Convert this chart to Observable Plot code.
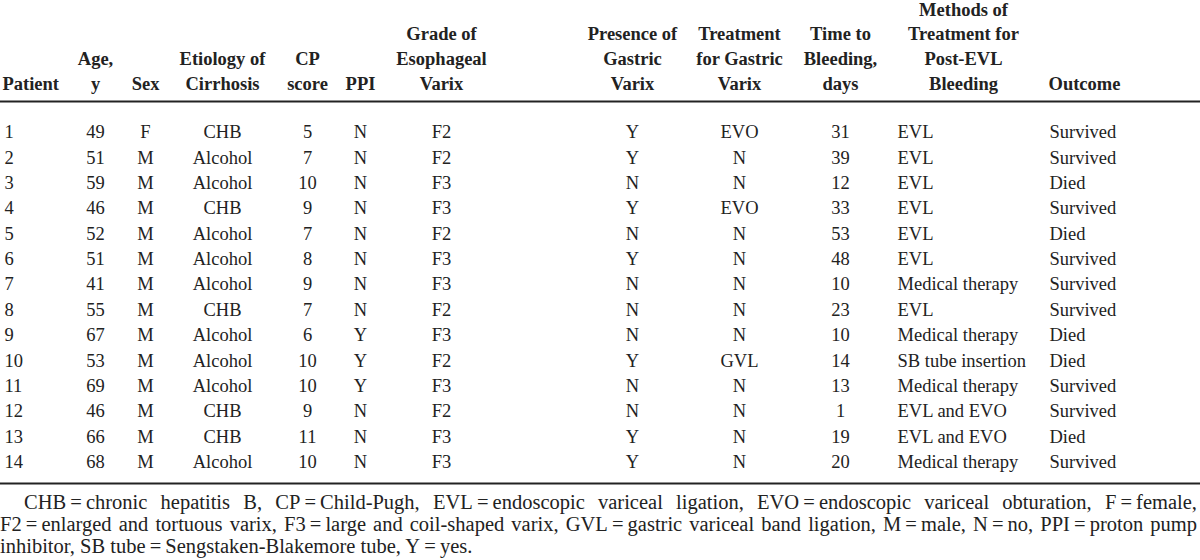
<!DOCTYPE html>
<html>
<head>
<meta charset="utf-8">
<script src="https://cdn.jsdelivr.net/npm/d3@7"></script>
<script src="https://cdn.jsdelivr.net/npm/@observablehq/plot@0.6"></script>
<style>
  html, body { margin: 0; padding: 0; background: #fff; }
  body { width: 1200px; height: 560px; overflow: hidden; font-family: "Liberation Serif", Tinos, "Times New Roman", "DejaVu Serif", serif; color: #222; }
  #chart svg { display: block; }
  #note { width: 1197px; font-size: 20.5px; line-height: 22px; margin-top: 1px; }
  #note .j { text-align: justify; text-align-last: justify; }
  #note .first { text-indent: 24px; }
</style>
</head>
<body>
<div id="chart"></div>
<div id="note"></div>
<script>
// ---- data ----
const patients = [1, 2, 3, 4, 5, 6, 7, 8, 9, 10, 11, 12, 13, 14];
const ages = [49, 51, 59, 46, 52, 51, 41, 55, 67, 53, 69, 46, 66, 68];
const sexes = ["F", "M", "M", "M", "M", "M", "M", "M", "M", "M", "M", "M", "M", "M"];
const etiologies = ["CHB", "Alcohol", "Alcohol", "CHB", "Alcohol", "Alcohol", "Alcohol", "CHB", "Alcohol", "Alcohol", "Alcohol", "CHB", "CHB", "Alcohol"];
const cpScores = [5, 7, 10, 9, 7, 8, 9, 7, 6, 10, 10, 9, 11, 10];
const ppiUse = ["N", "N", "N", "N", "N", "N", "N", "N", "Y", "Y", "Y", "N", "N", "N"];
const esophagealGrades = ["F2", "F2", "F3", "F3", "F2", "F3", "F3", "F2", "F3", "F2", "F3", "F2", "F3", "F3"];
const gastricVarix = ["Y", "Y", "N", "Y", "N", "Y", "N", "N", "N", "Y", "N", "N", "Y", "Y"];
const gastricTreatment = ["EVO", "N", "N", "EVO", "N", "N", "N", "N", "N", "GVL", "N", "N", "N", "N"];
const daysToBleeding = [31, 39, 12, 33, 53, 48, 10, 23, 10, 14, 13, 1, 19, 20];
const postEvlTreatment = ["EVL", "EVL", "EVL", "EVL", "EVL", "EVL", "Medical therapy", "EVL", "Medical therapy", "SB tube insertion", "Medical therapy", "EVL and EVO", "EVL and EVO", "Medical therapy"];
const outcomes = ["Survived", "Survived", "Died", "Survived", "Died", "Survived", "Survived", "Survived", "Died", "Died", "Survived", "Survived", "Died", "Survived"];

const columnKeys = ["patient", "age", "sex", "etiology", "cp", "ppi", "grade", "presence", "gtreat", "days", "method", "outcome"];
const headerLabels = [
  "Patient", "Age,\ny", "Sex", "Etiology of\nCirrhosis", "CP\nscore", "PPI",
  "Grade of\nEsophageal\nVarix", "Presence of\nGastric\nVarix", "Treatment\nfor Gastric\nVarix",
  "Time to\nBleeding,\ndays", "Methods of\nTreatment for\nPost-EVL\nBleeding", "Outcome"
];
const footnoteLines = [
  "CHB\u2009=\u2009chronic hepatitis B, CP\u2009=\u2009Child-Pugh, EVL\u2009=\u2009endoscopic variceal ligation, EVO\u2009=\u2009endoscopic variceal obturation, F\u2009=\u2009female,",
  "F2\u2009=\u2009enlarged and tortuous varix, F3\u2009=\u2009large and coil-shaped varix, GVL\u2009=\u2009gastric variceal band ligation, M\u2009=\u2009male, N\u2009=\u2009no, PPI\u2009=\u2009proton pump",
  "inhibitor, SB tube\u2009=\u2009Sengstaken-Blakemore tube, Y\u2009=\u2009yes."
];

// ---- layout (column anchors on a 0..1200 x scale, rows on a row-index y scale) ----
const colLayout = {
  patient:  {cell: 4,   cellAnchor: "start",  head: 2,   headAnchor: "start"},
  age:      {cell: 95,  cellAnchor: "middle", head: 95,  headAnchor: "middle"},
  sex:      {cell: 145, cellAnchor: "middle", head: 145, headAnchor: "middle"},
  etiology: {cell: 222, cellAnchor: "middle", head: 222, headAnchor: "middle"},
  cp:       {cell: 307, cellAnchor: "middle", head: 307, headAnchor: "middle"},
  ppi:      {cell: 360, cellAnchor: "middle", head: 360, headAnchor: "middle"},
  grade:    {cell: 441, cellAnchor: "middle", head: 441, headAnchor: "middle"},
  presence: {cell: 632, cellAnchor: "middle", head: 632, headAnchor: "middle"},
  gtreat:   {cell: 739, cellAnchor: "middle", head: 739, headAnchor: "middle"},
  days:     {cell: 840, cellAnchor: "middle", head: 840, headAnchor: "middle"},
  method:   {cell: 897, cellAnchor: "start",  head: 963, headAnchor: "middle"},
  outcome:  {cell: 1049, cellAnchor: "start", head: 1048, headAnchor: "start"}
};
const headerRow = -0.66;     // baseline of the last header line, in row units
const headRuleRow = -0.22;
const footRuleRow = 14.85;
const fontSize = 18.5;
const serif = "'Liberation Serif', Tinos, 'Times New Roman', 'DejaVu Serif', serif";

// ---- build table ----
const columnsData = {
  patient: patients, age: ages, sex: sexes, etiology: etiologies, cp: cpScores, ppi: ppiUse,
  grade: esophagealGrades, presence: gastricVarix, gtreat: gastricTreatment, days: daysToBleeding,
  method: postEvlTreatment, outcome: outcomes
};
const cells = patients.flatMap((p, i) => columnKeys.map(k => ({
  row: i + 1, col: k, text: String(columnsData[k][i]),
  x: colLayout[k].cell, anchor: colLayout[k].cellAnchor
})));
const headers = columnKeys.map((k, i) => ({
  col: k, text: headerLabels[i], x: colLayout[k].head, anchor: colLayout[k].headAnchor, row: headerRow
}));

const bodyMark = (anchor) => Plot.text(cells.filter(d => d.anchor === anchor), {
  x: "x", y: "row", text: "text", textAnchor: anchor, fontSize, fontFamily: serif, fill: "#222"
});
const headMark = (anchor) => Plot.text(headers.filter(d => d.anchor === anchor), {
  x: "x", y: "row", text: "text", textAnchor: anchor, lineAnchor: "bottom", lineHeight: 1.35,
  fontSize, fontFamily: serif, fontWeight: "bold", fill: "#222"
});

const chart = Plot.plot({
  width: 1200,
  height: 490,
  margin: 0,
  x: {domain: [0, 1200], range: [0, 1200], axis: null},
  y: {domain: [1, 14], range: [132, 461.5], axis: null},
  style: {fontFamily: serif, background: "#fff", color: "#222"},
  marks: [
    Plot.ruleY([headRuleRow, footRuleRow], {stroke: "#222", strokeWidth: 2}),
    headMark("start"),
    headMark("middle"),
    bodyMark("start"),
    bodyMark("middle")
  ]
});
document.getElementById("chart").appendChild(chart);

const note = document.getElementById("note");
footnoteLines.forEach((line, i) => {
  const div = document.createElement("div");
  div.textContent = line;
  if (i < footnoteLines.length - 1) div.className = "j" + (i === 0 ? " first" : "");
  note.appendChild(div);
});
</script>
</body>
</html>
